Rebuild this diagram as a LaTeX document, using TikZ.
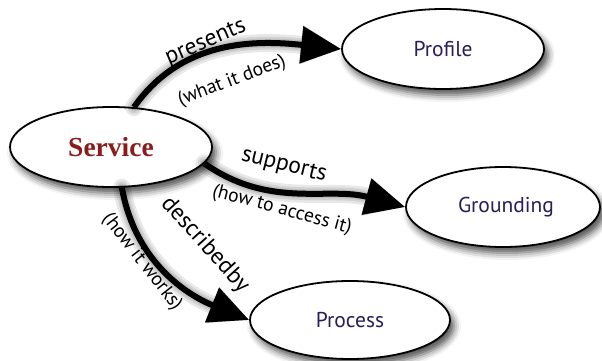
\documentclass[tikz,border=0pt]{standalone}
\usepackage{fontspec}
\setsansfont{PT Sans}
\newfontfamily\servfont{Liberation Serif}
\usetikzlibrary{shapes.geometric,arrows.meta,shadows.blur}
\definecolor{servred}{HTML}{8B1C1C}
\definecolor{navy}{HTML}{2B1D5A}
\tikzset{
  blob/.style={ellipse, draw=black, line width=1.8pt, fill=white, inner sep=0pt,
    minimum width=202pt, minimum height=80pt,
    blur shadow={shadow xshift=4pt, shadow yshift=-6pt, shadow blur radius=7pt, shadow opacity=70}},
  rel/.style={line width=6pt, -{Triangle[length=40pt,width=36pt]}},
  relshadow/.style={line width=#1, black, opacity=0.09, line cap=round,
    -{Triangle[length=40pt,width=36pt]}, shift={(4pt,-6pt)}},
  lbl/.style={font=\sffamily\fontsize{23.5}{24}\selectfont, inner sep=0pt},
  sub/.style={font=\sffamily\fontsize{19.5}{20}\selectfont, inner sep=0pt},
  ntext/.style={font=\sffamily\fontsize{21.5}{22}\selectfont, text=navy}
}
\begin{document}
\begin{tikzpicture}[x=1pt,y=1pt]
\useasboundingbox (0,0) rectangle (602,360);
\node[blob] (Service) at (111,213) {\servfont\bfseries\fontsize{27.5}{28}\selectfont\textcolor{servred}{Service}};
\node[blob] (Profile) at (443,311) {};
\node[ntext] (Ptext) at (443,311) {Profile};
\node[blob, minimum width=194pt] (Grounding) at (503,153) {};
\node[ntext] (Gtext) at (506,153) {Grounding};
\node[blob, minimum width=200pt, minimum height=78pt] (Process) at (350,40) {};
\node[ntext] (Prtext) at (350,40) {Process};

\foreach \w in {18pt,13pt,9pt,6pt}{
  \draw[relshadow=\w] (Service.60) to[out=55,in=174] (Profile.west);
  \draw[relshadow=\w] (Service.-10) to[out=-35,in=165] (Grounding.west);
  \draw[relshadow=\w] (Service.-75) to[out=-80,in=158] (Process.west);
}
\draw[rel] (Service.60) to[out=55,in=174] (Profile.west);
\draw[rel] (Service.-10) to[out=-35,in=165] (Grounding.west);
\draw[rel] (Service.-75) to[out=-80,in=158] (Process.west);

\node[lbl, rotate=23] (l1) at (206,317) {presents};
\node[sub, rotate=21] (l2) at (232,279) {(what it does)};
\node[lbl, rotate=-14] (l3) at (284,194) {supports};
\node[sub, rotate=-15] (l4) at (282,150) {(how to access it)};
\node[lbl, rotate=-48] (l5) at (205,115) {describedby};
\node[sub, rotate=-52] (l6) at (142,98) {(how it works)};
\end{tikzpicture}
\end{document}
